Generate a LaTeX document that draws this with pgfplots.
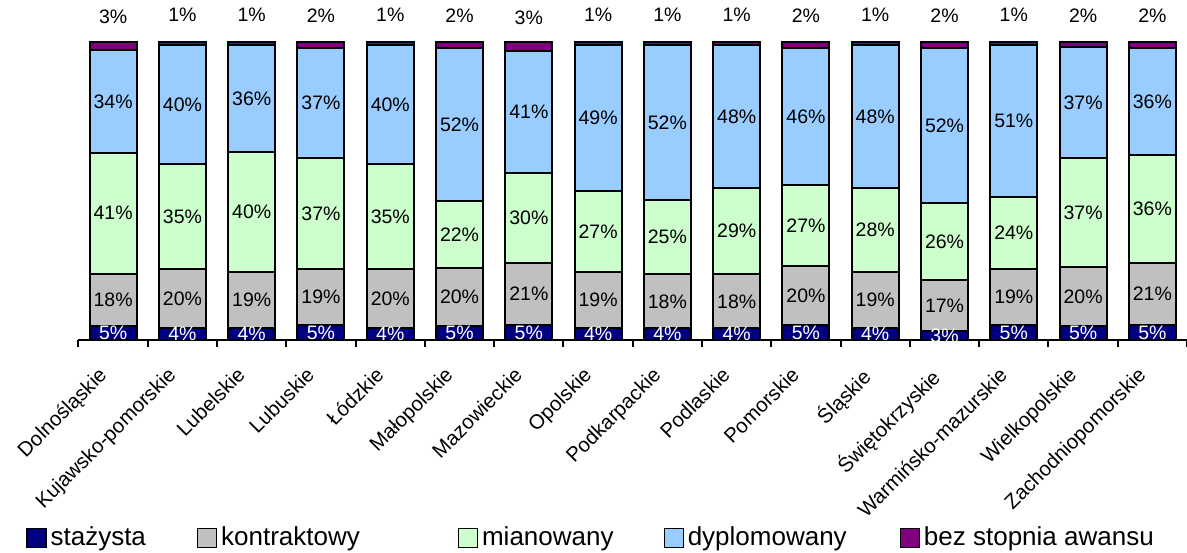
\documentclass[border=0pt]{standalone}
\usepackage{fontspec}
\setmainfont{Liberation Sans}
\usepackage{pgfplots}
\usepackage{pgfplotstable}
\pgfplotsset{compat=1.18}

\definecolor{staz}{RGB}{0,0,128}
\definecolor{kontr}{RGB}{192,192,192}
\definecolor{mian}{RGB}{204,255,204}
\definecolor{dypl}{RGB}{153,204,255}
\definecolor{bsa}{RGB}{128,0,128}

% udzial nauczycieli wg stopnia awansu (%), wojewodztwa 0..15
\pgfplotstableread{
idx staz kontr mian dypl bsa
0  4.6 17.7 40.6 34.3 2.8
1  4   20   35   40   1
2  4   19   40   36   1
3  5   19   37   37   2
4  4   20   35   40   1
5  4.7 19.6 22.2 51.6 1.9
6  5   21   30   41   3
7  4   19   27   49   1
8  4   18   25   52   1
9  4   18   29   48   1
10 5   20   27   46   2
11 4   19   28   48   1
12 3   17   26   52   2
13 5   19   24   51   1
14 4.6 19.8 36.8 37.1 1.7
15 5   21   36   36   2
}\woj

\pgfplotsset{
  segment label/.style={
    nodes near coords={\pgfmathprintnumber[fixed,precision=0]{\pgfplotspointmeta}\%},
    every node near coord/.append style={anchor=center, text=#1},
  },
}

\begin{document}
\begin{tikzpicture}
\begin{axis}[
  name=ax,
  ybar stacked,
  x=34.64pt, y=1.49pt,
  xmin=-0.5, xmax=15.5, ymin=0, ymax=113,
  bar width=23.5pt,
  axis x line*=bottom,
  axis y line=none,
  x axis line style={-, line width=1pt},
  xtick={0,...,15},
  xticklabels={Dolnośląskie, Kujawsko-pomorskie, Lubelskie, Lubuskie, Łódzkie,
    Małopolskie, Mazowieckie, Opolskie, Podkarpackie, Podlaskie, Pomorskie,
    Śląskie, Świętokrzyskie, Warmińsko-mazurskie, Wielkopolskie, Zachodniopomorskie},
  major tick length=0pt,
  minor xtick={-0.5,0.5,...,15.5},
  minor tick length=3.5pt,
  tick align=outside,
  minor tick style={line width=1pt, black},
  xticklabel style={rotate=45, anchor=north east, xshift=-11.3pt, yshift=0pt,
    font=\fontsize{10.2}{12}\selectfont},
  /pgf/number format/assume math mode=true,
  point meta=explicit symbolic,
  every node near coord/.append style={font=\fontsize{9.75}{11}\selectfont},
  legend columns=5,
  legend style={draw=none, fill=none, at={(-0.0528,-0.588)}, anchor=west,
    font=\fontsize{13}{15}\selectfont,
    /tikz/column 2/.style={column sep=23.5pt},
    /tikz/column 4/.style={column sep=47pt},
    /tikz/column 6/.style={column sep=23pt},
    /tikz/column 8/.style={column sep=24.5pt}},
  legend image code/.code={\draw[#1, line width=0.6pt] (0pt,-4.75pt) rectangle (9.5pt,4.75pt);},
]
\addplot[draw=black, line width=1pt, fill=staz, segment label=white]
  table[x=idx, y=staz, meta=staz] {\woj};
\addplot[draw=black, line width=1pt, fill=kontr, segment label=black]
  table[x=idx, y=kontr, meta=kontr] {\woj};
\addplot[draw=black, line width=1pt, fill=mian, segment label=black]
  table[x=idx, y=mian, meta=mian] {\woj};
\addplot[draw=black, line width=1pt, fill=dypl, segment label=black]
  table[x=idx, y=dypl, meta=dypl] {\woj};
\addplot[draw=black, line width=1pt, fill=bsa,
  nodes near coords={\pgfmathprintnumber[fixed,precision=0]{\pgfplotspointmeta}\%},
  every node near coord/.append style={anchor=center, yshift=14.5pt, text=black}]
  table[x=idx, y=bsa, meta=bsa] {\woj};
\legend{stażysta, kontraktowy, mianowany, dyplomowany, bez stopnia awansu}
\end{axis}
\pgfresetboundingbox
\path ([xshift=-39.25pt, yshift=-106pt]ax.south west) rectangle ([yshift=1.65pt]ax.north east);
\end{tikzpicture}
\end{document}
